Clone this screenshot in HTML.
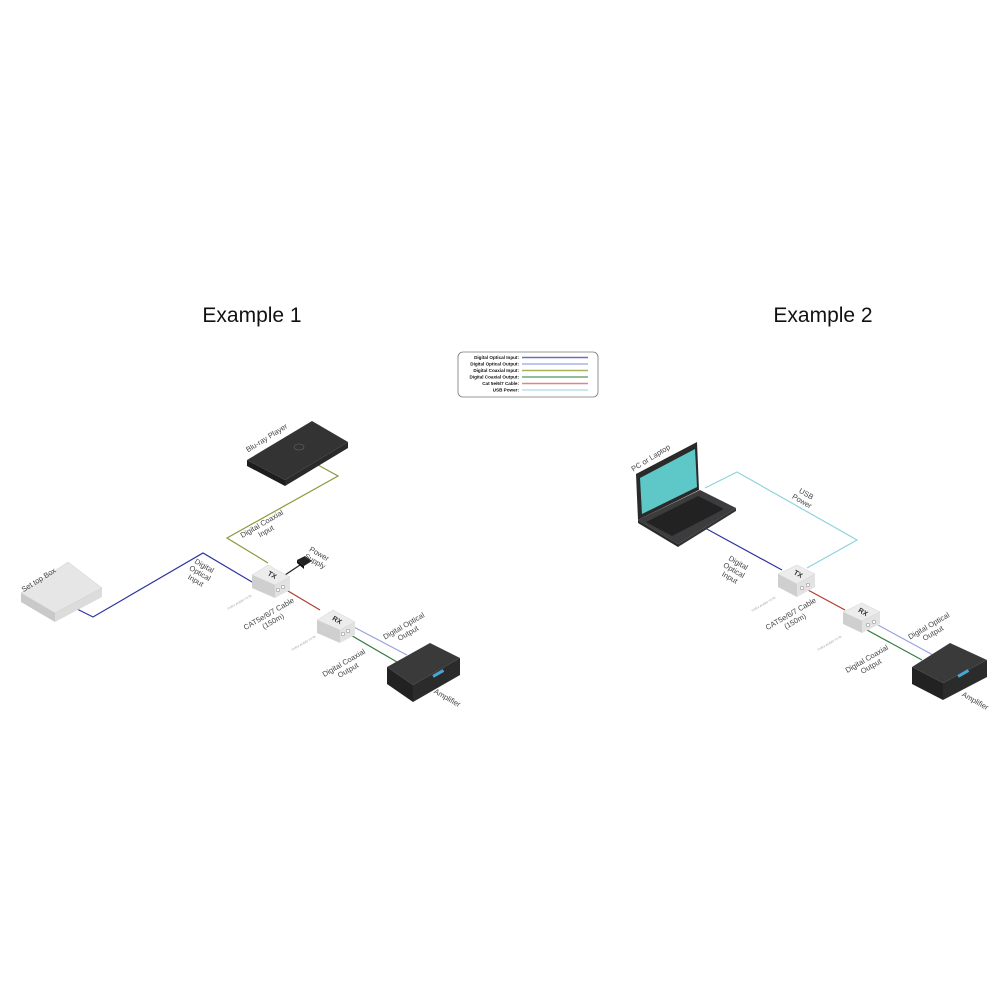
<!DOCTYPE html>
<html><head><meta charset="utf-8"><style>
html,body{margin:0;padding:0;background:#fff;}
svg{display:block;font-family:"Liberation Sans",sans-serif;}
.lbl{font-size:7.5px;fill:#444;}
.tiny{font-size:3px;fill:#999;}
</style></head><body>
<svg width="1000" height="1000" viewBox="0 0 1000 1000">
<text x="252" y="322" font-size="21" text-anchor="middle" fill="#111">Example 1</text>
<text x="823" y="322" font-size="21" text-anchor="middle" fill="#111">Example 2</text>

<!-- legend -->
<rect x="458" y="352" width="140" height="45" rx="5" fill="#fff" stroke="#777" stroke-width="0.8"/>
<g font-size="4.6" font-weight="bold" text-anchor="end" fill="#111">
<text x="519" y="359">Digital Optical Input:</text>
<text x="519" y="365.5">Digital Optical Output:</text>
<text x="519" y="372">Digital Coaxial Input:</text>
<text x="519" y="378.5">Digital Coaxial Output:</text>
<text x="519" y="385">Cat 5e/6/7 Cable:</text>
<text x="519" y="391.5">USB Power:</text>
</g>
<g stroke-width="1.4">
<line x1="522" y1="357.5" x2="588" y2="357.5" stroke="#6a70c0"/>
<line x1="522" y1="364" x2="588" y2="364" stroke="#aab2ea"/>
<line x1="522" y1="370.5" x2="588" y2="370.5" stroke="#a6b35c"/>
<line x1="522" y1="377" x2="588" y2="377" stroke="#6aa87a"/>
<line x1="522" y1="383.5" x2="588" y2="383.5" stroke="#d88a84"/>
<line x1="522" y1="390" x2="588" y2="390" stroke="#b7e3ea"/>
</g>

<!-- ===== Example 1 ===== -->
<g fill="none" stroke-width="1.2">
<polyline points="73,607 93,617 203,553 252,582" stroke="#2d34a0"/>
<polyline points="318,465 338,476 227,538 268,563" stroke="#8a9a3a"/>
<polyline points="283,588 320,610" stroke="#b33a2e"/>
<polyline points="350,625 407,655" stroke="#9aa3e0"/>
<polyline points="342,630 397,662" stroke="#2f7d3c"/>
<line x1="285" y1="575" x2="300" y2="565" stroke="#222"/>
</g>
<!-- set top box -->
<polygon points="21,593 55,613 55,622 21,602" fill="#c9c9c9"/>
<polygon points="55,613 102,588 102,597 55,622" fill="#dcdcdc"/>
<polygon points="21,593 68,562 102,588 55,613" fill="#e6e6e6" stroke="#ccc" stroke-width="0.5"/>
<!-- blu-ray -->
<polygon points="247,460 285,480 285,486 247,466" fill="#1d1d1d"/>
<polygon points="285,480 348,442 348,448 285,486" fill="#2a2a2a"/>
<polygon points="247,460 312,421 348,442 285,480" fill="#333"/>
<ellipse cx="299" cy="447" rx="5" ry="3" fill="none" stroke="#666" stroke-width="0.6"/>
<!-- power supply -->
<polygon points="297,560 305,556 312,561 304,566" fill="#222"/>
<polygon points="297,560 304,566 304,569 297,563" fill="#111"/>
<!-- TX -->
<polygon points="252,575 275,585 275,598 252,588" fill="#cfcfcf"/>
<polygon points="275,585 290,577 290,590 275,598" fill="#e2e2e2"/>
<polygon points="252,575 268,565 290,577 275,585" fill="#ececec" stroke="#ccc" stroke-width="0.4"/>
<text x="271" y="577" font-size="7" font-weight="bold" fill="#333" transform="rotate(30 271 577)" text-anchor="middle">TX</text>
<circle cx="278" cy="590" r="1.8" fill="#fff" stroke="#777" stroke-width="0.5"/>
<circle cx="283" cy="587" r="1.8" fill="#fff" stroke="#777" stroke-width="0.5"/>
<!-- RX -->
<polygon points="317,620 340,630 340,643 317,633" fill="#cfcfcf"/>
<polygon points="340,630 355,622 355,635 340,643" fill="#e2e2e2"/>
<polygon points="317,620 333,610 355,622 340,630" fill="#ececec" stroke="#ccc" stroke-width="0.4"/>
<text x="336" y="622" font-size="7" font-weight="bold" fill="#333" transform="rotate(30 336 622)" text-anchor="middle">RX</text>
<circle cx="343" cy="634" r="1.8" fill="#fff" stroke="#777" stroke-width="0.5"/>
<circle cx="348" cy="631" r="1.8" fill="#fff" stroke="#777" stroke-width="0.5"/>
<!-- amplifier -->
<polygon points="387,667 413,685 413,702 387,684" fill="#222"/>
<polygon points="413,685 460,658 460,675 413,702" fill="#2b2b2b"/>
<polygon points="387,667 430,643 460,658 413,685" fill="#3a3a3a"/>
<rect x="432" y="672" width="12" height="3" fill="#4aa6d6" transform="rotate(-30 438 673)"/>

<g class="lbl" text-anchor="middle">
<text x="0" y="0" transform="translate(40,582) rotate(-32)">Set top Box</text>
<text x="0" y="0" transform="translate(268,440) rotate(-32)">Blu-ray Player</text>
<text transform="translate(263,526) rotate(-30)"><tspan x="0" dy="0">Digital Coaxial</tspan><tspan x="0" dy="8.5">Input</tspan></text>
<text transform="translate(203,568) rotate(30)"><tspan x="0" dy="0">Digital</tspan><tspan x="0" dy="8.5">Optical</tspan><tspan x="0" dy="8.5">Input</tspan></text>
<text transform="translate(318,556) rotate(30)"><tspan x="0" dy="0">Power</tspan><tspan x="0" dy="8.5">Supply</tspan></text>
<text transform="translate(270,616) rotate(-30)"><tspan x="0" dy="0">CAT5e/6/7 Cable</tspan><tspan x="0" dy="8.5">(150m)</tspan></text>
<text transform="translate(405,628) rotate(-30)"><tspan x="0" dy="0">Digital Optical</tspan><tspan x="0" dy="8.5">Output</tspan></text>
<text transform="translate(345,665) rotate(-30)"><tspan x="0" dy="0">Digital Coaxial</tspan><tspan x="0" dy="8.5">Output</tspan></text>
<text transform="translate(446,700) rotate(30)">Amplifier</text>
</g>
<text class="tiny" x="228" y="610" transform="rotate(-30 228 610)">TX/RX AUDIO TX IN</text>
<text class="tiny" x="292" y="651" transform="rotate(-30 292 651)">TX/RX AUDIO TX IN</text>

<!-- ===== Example 2 ===== -->
<g fill="none" stroke-width="1.2">
<polyline points="705,528 782,570" stroke="#2d34a0"/>
<polyline points="705,488 737,472 857,540 807,568" stroke="#8fd3de"/>
<polyline points="808,590 845,610" stroke="#b33a2e"/>
<polyline points="878,625 933,655" stroke="#9aa3e0"/>
<polyline points="867,630 922,660" stroke="#2f7d3c"/>
</g>
<!-- laptop -->
<polygon points="636,474 697,442 699,490 638,520" fill="#2a2a2a"/>
<polygon points="640,478 695,449 697,487 642,514" fill="#5ec8c8"/>
<polygon points="638,520 700,490 736,508 678,544" fill="#3c3c3e"/>
<polygon points="646,522 698,496 724,509 672,536" fill="#222"/>
<polygon points="638,520 678,544 678,547 638,523" fill="#2a2a2a"/>
<polygon points="678,544 736,508 736,511 678,547" fill="#333"/>
<!-- TX -->
<polygon points="778,574 797,584 797,597 778,587" fill="#cfcfcf"/>
<polygon points="797,584 815,574 815,587 797,597" fill="#e2e2e2"/>
<polygon points="778,574 797,565 815,574 797,584" fill="#ececec" stroke="#ccc" stroke-width="0.4"/>
<text x="797" y="576" font-size="7" font-weight="bold" fill="#333" transform="rotate(30 797 576)" text-anchor="middle">TX</text>
<circle cx="802" cy="588" r="1.8" fill="#fff" stroke="#777" stroke-width="0.5"/>
<circle cx="808" cy="585" r="1.8" fill="#fff" stroke="#777" stroke-width="0.5"/>
<!-- RX -->
<polygon points="843,612 862,621 862,633 843,624" fill="#cfcfcf"/>
<polygon points="862,621 880,612 880,624 862,633" fill="#e2e2e2"/>
<polygon points="843,612 862,603 880,612 862,621" fill="#ececec" stroke="#ccc" stroke-width="0.4"/>
<text x="862" y="614" font-size="7" font-weight="bold" fill="#333" transform="rotate(30 862 614)" text-anchor="middle">RX</text>
<circle cx="868" cy="625" r="1.8" fill="#fff" stroke="#777" stroke-width="0.5"/>
<circle cx="874" cy="622" r="1.8" fill="#fff" stroke="#777" stroke-width="0.5"/>
<!-- amp -->
<polygon points="912,667 943,683 943,700 912,684" fill="#222"/>
<polygon points="943,683 987,660 987,677 943,700" fill="#2b2b2b"/>
<polygon points="912,667 950,643 987,660 943,683" fill="#3a3a3a"/>
<rect x="957" y="672" width="12" height="3" fill="#4aa6d6" transform="rotate(-30 963 673)"/>

<g class="lbl" text-anchor="middle">
<text transform="translate(652,460) rotate(-32)">PC or Laptop</text>
<text transform="translate(805,496) rotate(30)"><tspan x="0" dy="0">USB</tspan><tspan x="0" dy="8.5">Power</tspan></text>
<text transform="translate(737,565) rotate(30)"><tspan x="0" dy="0">Digital</tspan><tspan x="0" dy="8.5">Optical</tspan><tspan x="0" dy="8.5">Input</tspan></text>
<text transform="translate(792,616) rotate(-30)"><tspan x="0" dy="0">CAT5e/6/7 Cable</tspan><tspan x="0" dy="8.5">(150m)</tspan></text>
<text transform="translate(930,628) rotate(-30)"><tspan x="0" dy="0">Digital Optical</tspan><tspan x="0" dy="8.5">Output</tspan></text>
<text transform="translate(868,661) rotate(-30)"><tspan x="0" dy="0">Digital Coaxial</tspan><tspan x="0" dy="8.5">Output</tspan></text>
<text transform="translate(974,703) rotate(30)">Amplifier</text>
</g>
<text class="tiny" x="752" y="612" transform="rotate(-30 752 612)">TX/RX AUDIO TX IN</text>
<text class="tiny" x="818" y="651" transform="rotate(-30 818 651)">TX/RX AUDIO TX IN</text>
</svg>
</body></html>
